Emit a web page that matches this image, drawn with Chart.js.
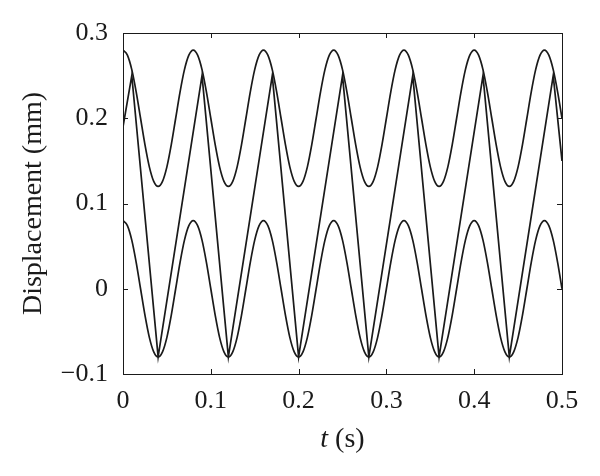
<!DOCTYPE html>
<html>
<head>
<meta charset="utf-8">
<script src="https://cdn.jsdelivr.net/npm/chart.js@4/dist/chart.umd.min.js"></script>
<style>
    html, body { margin: 0; padding: 0; background: #fff; }
    #wrap { width: 600px; height: 476px; }
</style>
</head>
<body>
<div id="wrap"><canvas id="chart" width="600" height="476"></canvas></div>
<script>
// sample times (s) for the two smooth curves
const timeSteps = [
    0, 0.005, 0.01, 0.015, 0.02, 0.025, 0.03, 0.035, 0.04, 0.045, 0.05, 0.055, 0.06, 0.065, 0.07, 0.075,
    0.08, 0.085, 0.09, 0.095, 0.1, 0.105, 0.11, 0.115, 0.12, 0.125, 0.13, 0.135, 0.14, 0.145, 0.15, 0.155,
    0.16, 0.165, 0.17, 0.175, 0.18, 0.185, 0.19, 0.195, 0.2, 0.205, 0.21, 0.215, 0.22, 0.225, 0.23, 0.235,
    0.24, 0.245, 0.25, 0.255, 0.26, 0.265, 0.27, 0.275, 0.28, 0.285, 0.29, 0.295, 0.3, 0.305, 0.31, 0.315,
    0.32, 0.325, 0.33, 0.335, 0.34, 0.345, 0.35, 0.355, 0.36, 0.365, 0.37, 0.375, 0.38, 0.385, 0.39, 0.395,
    0.4, 0.405, 0.41, 0.415, 0.42, 0.425, 0.43, 0.435, 0.44, 0.445, 0.45, 0.455, 0.46, 0.465, 0.47, 0.475,
    0.48, 0.485, 0.49, 0.495, 0.5
];

// upper curve (mm)
const upperDisp = [
    0.28, 0.274, 0.257, 0.231, 0.2, 0.169, 0.143, 0.126, 0.12, 0.126, 0.143, 0.169, 0.2, 0.231, 0.257, 0.274,
    0.28, 0.274, 0.257, 0.231, 0.2, 0.169, 0.143, 0.126, 0.12, 0.126, 0.143, 0.169, 0.2, 0.231, 0.257, 0.274,
    0.28, 0.274, 0.257, 0.231, 0.2, 0.169, 0.143, 0.126, 0.12, 0.126, 0.143, 0.169, 0.2, 0.231, 0.257, 0.274,
    0.28, 0.274, 0.257, 0.231, 0.2, 0.169, 0.143, 0.126, 0.12, 0.126, 0.143, 0.169, 0.2, 0.231, 0.257, 0.274,
    0.28, 0.274, 0.257, 0.231, 0.2, 0.169, 0.143, 0.126, 0.12, 0.126, 0.143, 0.169, 0.2, 0.231, 0.257, 0.274,
    0.28, 0.274, 0.257, 0.231, 0.2, 0.169, 0.143, 0.126, 0.12, 0.126, 0.143, 0.169, 0.2, 0.231, 0.257, 0.274,
    0.28, 0.274, 0.257, 0.231, 0.2
];

// lower curve (mm)
const lowerDisp = [
    0.08, 0.074, 0.057, 0.031, 0, -0.031, -0.057, -0.074, -0.08, -0.074, -0.057, -0.031, 0, 0.031, 0.057, 0.074,
    0.08, 0.074, 0.057, 0.031, 0, -0.031, -0.057, -0.074, -0.08, -0.074, -0.057, -0.031, 0, 0.031, 0.057, 0.074,
    0.08, 0.074, 0.057, 0.031, 0, -0.031, -0.057, -0.074, -0.08, -0.074, -0.057, -0.031, 0, 0.031, 0.057, 0.074,
    0.08, 0.074, 0.057, 0.031, 0, -0.031, -0.057, -0.074, -0.08, -0.074, -0.057, -0.031, 0, 0.031, 0.057, 0.074,
    0.08, 0.074, 0.057, 0.031, 0, -0.031, -0.057, -0.074, -0.08, -0.074, -0.057, -0.031, 0, 0.031, 0.057, 0.074,
    0.08, 0.074, 0.057, 0.031, 0, -0.031, -0.057, -0.074, -0.08, -0.074, -0.057, -0.031, 0, 0.031, 0.057, 0.074,
    0.08, 0.074, 0.057, 0.031, 0
];

// middle sawtooth-like curve, corner points
const sawTimes = [0, 0.01, 0.04, 0.09, 0.12, 0.17, 0.2, 0.25, 0.28, 0.33, 0.36, 0.41, 0.44, 0.49, 0.5];
const sawDisp = [0.19, 0.25, -0.08, 0.25, -0.08, 0.25, -0.08, 0.25, -0.08, 0.25, -0.08, 0.25, -0.08, 0.25, 0.15];

const xTicks = [0, 0.1, 0.2, 0.3, 0.4, 0.5];
const yTicks = [-0.1, 0, 0.1, 0.2, 0.3];

const FONT = '"Liberation Serif", "DejaVu Serif", serif';
const INK = '#1a1a1a';

document.addEventListener('DOMContentLoaded', function() {
    drawChart();
});

function toPoints(xs, ys) {
    return xs.map(function(x, i) { return { x: x, y: ys[i] }; });
}

function fmtTick(v) {
    if (v === 0) return '0';
    return v.toFixed(1).replace('-', '\u2212');
}

// box frame, inward ticks on all four sides, axis titles
const framePlugin = {
    id: 'frame',
    afterDraw(chart) {
        const ctx = chart.ctx;
        const a = chart.chartArea;
        const xs = chart.scales.x, ys = chart.scales.y;
        const len = 5;
        ctx.save();
        ctx.strokeStyle = INK;
        ctx.lineWidth = 1;
        ctx.strokeRect(Math.round(a.left) + 0.5, Math.round(a.top) + 0.5,
            Math.round(a.right - a.left), Math.round(a.bottom - a.top));
        ctx.beginPath();
        xTicks.forEach(function(v) {
            const px = Math.round(xs.getPixelForValue(v)) + 0.5;
            ctx.moveTo(px, a.bottom); ctx.lineTo(px, a.bottom - len);
            ctx.moveTo(px, a.top); ctx.lineTo(px, a.top + len);
        });
        yTicks.forEach(function(v) {
            const py = Math.round(ys.getPixelForValue(v)) + 0.5;
            ctx.moveTo(a.left, py); ctx.lineTo(a.left + len, py);
            ctx.moveTo(a.right, py); ctx.lineTo(a.right - len, py);
        });
        ctx.stroke();

        // y title
        ctx.fillStyle = INK;
        ctx.font = '28px ' + FONT;
        ctx.textAlign = 'center';
        ctx.textBaseline = 'alphabetic';
        ctx.save();
        ctx.translate(41, (a.top + a.bottom) / 2);
        ctx.rotate(-Math.PI / 2);
        ctx.fillText('Displacement (mm)', 0, 0);
        ctx.restore();

        // x title: italic t, upright unit
        ctx.textAlign = 'left';
        ctx.font = 'italic 28px ' + FONT;
        const wT = ctx.measureText('t').width;
        ctx.font = '28px ' + FONT;
        const wU = ctx.measureText(' (s)').width;
        let x0 = (a.left + a.right) / 2 - (wT + wU) / 2;
        ctx.font = 'italic 28px ' + FONT;
        ctx.fillText('t', x0, 447);
        ctx.font = '28px ' + FONT;
        ctx.fillText(' (s)', x0 + wT, 447);
        ctx.restore();
    }
};

function drawChart() {
    const ctx = document.getElementById('chart').getContext('2d');
    const line = { borderColor: INK, borderWidth: 1.7, pointRadius: 0, fill: false };

    new Chart(ctx, {
        type: 'line',
        data: {
            datasets: [
                Object.assign({ data: toPoints(timeSteps, upperDisp), cubicInterpolationMode: 'monotone' }, line),
                Object.assign({ data: toPoints(timeSteps, lowerDisp), cubicInterpolationMode: 'monotone' }, line),
                Object.assign({ data: toPoints(sawTimes, sawDisp), tension: 0 }, line)
            ]
        },
        options: {
            responsive: false,
            animation: false,
            layout: { padding: { left: 0, top: 33, right: 38, bottom: 0 } },
            plugins: { legend: { display: false }, tooltip: { enabled: false } },
            scales: {
                x: {
                    type: 'linear', min: 0, max: 0.5,
                    grid: { display: false, drawTicks: false },
                    border: { display: false },
                    afterBuildTicks: function(s) { s.ticks = xTicks.map(function(v) { return { value: v }; }); },
                    afterFit: function(s) { s.height = 102; },
                    ticks: {
                        padding: 12, color: INK, maxRotation: 0,
                        font: { family: FONT, size: 26 },
                        callback: fmtTick
                    }
                },
                y: {
                    type: 'linear', min: -0.1, max: 0.3,
                    grid: { display: false, drawTicks: false },
                    border: { display: false },
                    afterBuildTicks: function(s) { s.ticks = yTicks.map(function(v) { return { value: v }; }); },
                    afterFit: function(s) { s.width = 123; },
                    ticks: {
                        padding: 15, color: INK,
                        font: { family: FONT, size: 26 },
                        callback: fmtTick
                    }
                }
            }
        },
        plugins: [framePlugin]
    });
}
</script>
</body>
</html>
